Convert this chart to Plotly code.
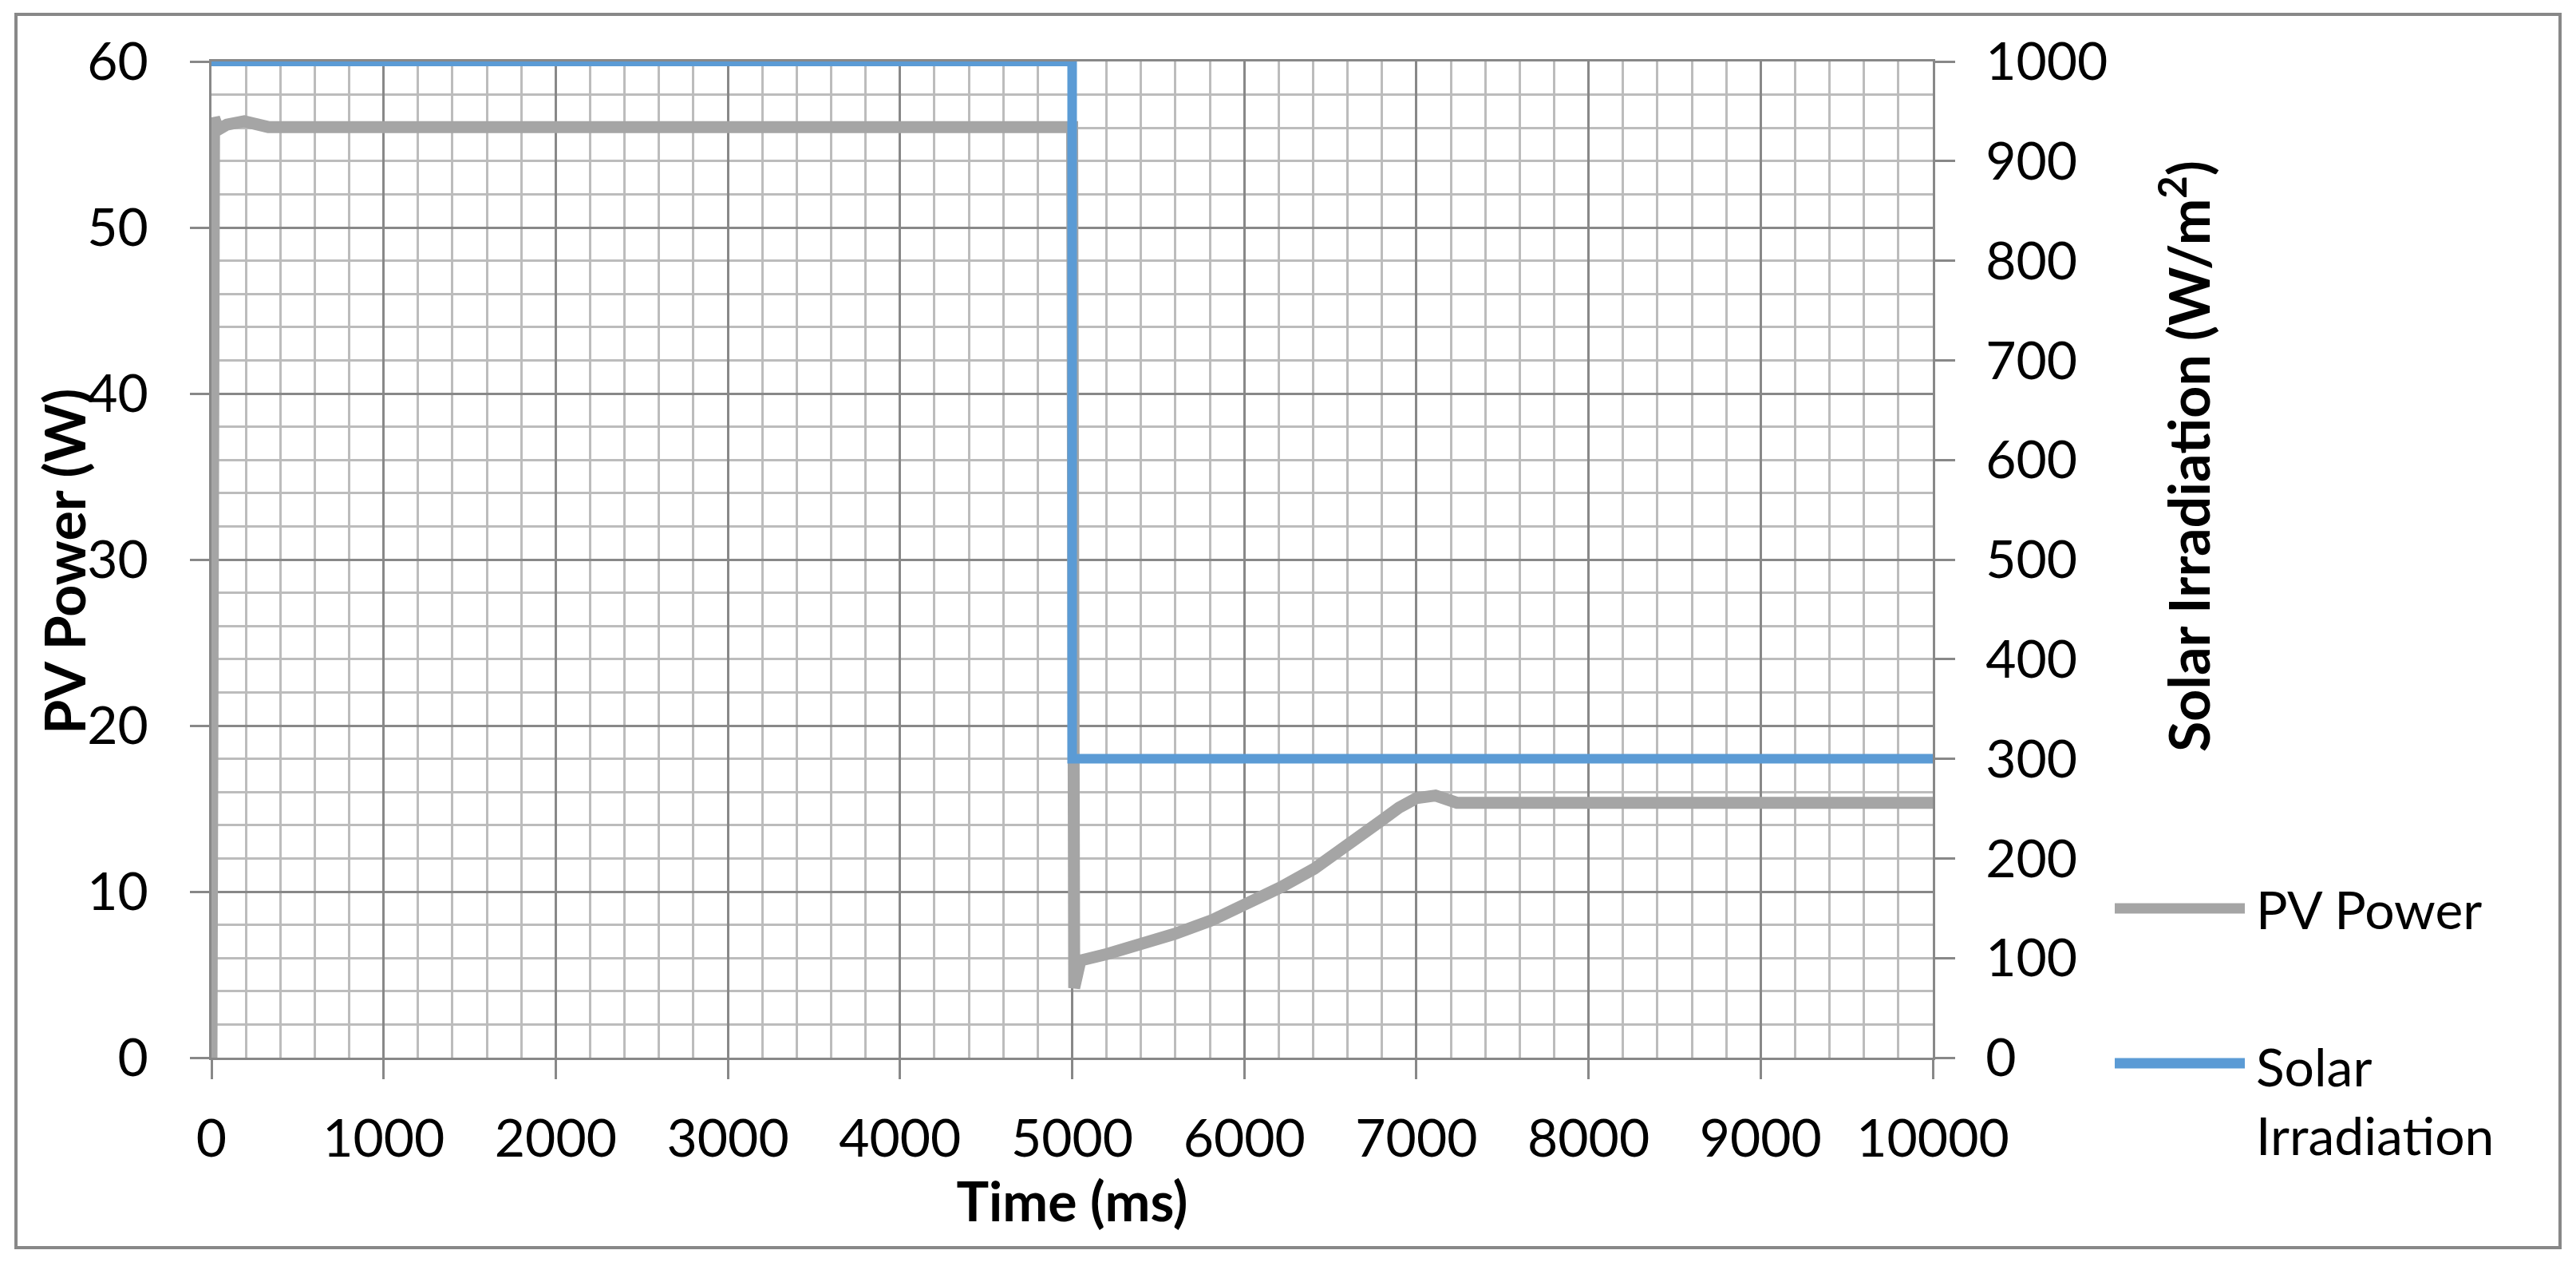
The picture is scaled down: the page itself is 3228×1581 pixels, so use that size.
import plotly.graph_objects as go

# ---- data ----
pv_time = [0, 15, 40, 90, 190, 270, 330, 1000, 2000, 3000, 4000, 5000, 5012,
           5048, 5206, 5400, 5594, 5806, 6005, 6212, 6406, 6600, 6794, 6899,
           7000, 7111, 7182, 7235, 8000, 9000, 10000]
pv_power = [0, 56.6, 55.9, 56.2, 56.4, 56.3, 56.05, 56.05, 56.05, 56.05, 56.05,
            56.05, 4.2, 5.85, 6.25, 6.81, 7.45, 8.25, 9.21, 10.26, 11.38, 12.74,
            14.26, 15.06, 15.63, 15.79, 15.63, 15.35, 15.35, 15.35, 15.35]

irr_time = [0, 5000, 10000]
irr_value = [1000, 300, 300]

series_names = ["PV Power", "Solar Irradiation"]
x_title = "Time (ms)"
y_title = "PV Power (W)"
y2_title = "Solar Irradiation (W/m<sup>2</sup>)"

GRAY = "#A5A5A5"
BLUE = "#5B9BD5"
AXC = "#888888"
MINC = "#BCBCBC"
FONT = "Lato"

fig = go.Figure()
fig.add_trace(go.Scatter(x=pv_time, y=pv_power, mode="lines", name=series_names[0],
                         line=dict(color=GRAY, width=15), yaxis="y"))
fig.add_trace(go.Scatter(x=irr_time, y=irr_value, mode="lines", name=series_names[1],
                         line=dict(color=BLUE, width=12, shape="hv"), yaxis="y2"))

# target plot-area edges in page pixels (page body has an 8px margin)
OFF = 8
L, R, T, B = 265, 2422, 77, 1325
W, H = R - L, B - T
ml, mt = L - OFF, T - OFF
mr = 3228 - ml - W
mb = 1581 - mt - H


def px(X):
    return (X - L) / W


def py(Y):
    return (B - Y) / H


fig.update_layout(
    width=3228, height=1581,
    margin=dict(l=ml, r=mr, t=mt, b=mb),
    paper_bgcolor="white", plot_bgcolor="white",
    showlegend=False,
    font=dict(family=FONT, color="black", size=66),
    xaxis=dict(
        range=[0, 10000], tickmode="linear", tick0=0, dtick=1000, tickformat="d",
        ticks="outside", ticklen=24, tickwidth=3, tickcolor=AXC,
        showline=True, linecolor=AXC, linewidth=3, mirror=True,
        showgrid=True, gridcolor=AXC, gridwidth=3, zeroline=False,
        minor=dict(dtick=200, showgrid=True, gridcolor=MINC, gridwidth=3, ticks=""),
        tickfont=dict(family=FONT, size=66, color="black"),
        ticklabelstandoff=18,
        title=dict(text="<b>" + x_title + "</b>", font=dict(family=FONT, size=68, color="black"),
                   standoff=5),
    ),
    yaxis=dict(
        range=[0, 60], tickmode="linear", tick0=0, dtick=10, tickformat="d",
        ticks="outside", ticklen=24, tickwidth=3, tickcolor=AXC,
        showline=True, linecolor=AXC, linewidth=3,
        showgrid=True, gridcolor=AXC, gridwidth=3, zeroline=False,
        minor=dict(dtick=2, showgrid=True, gridcolor=MINC, gridwidth=3, ticks=""),
        tickfont=dict(family=FONT, size=66, color="black"),
        ticklabelstandoff=39,
    ),
    yaxis2=dict(
        overlaying="y", side="right",
        range=[0, 1000], tickmode="linear", tick0=0, dtick=100, tickformat="d",
        ticks="outside", ticklen=25, tickwidth=3, tickcolor=AXC,
        showline=True, linecolor=AXC, linewidth=3,
        showgrid=False, zeroline=False,
        tickfont=dict(family=FONT, size=66, color="black"),
        ticklabelstandoff=25,
    ),
)

# left axis title (sits close to the tick labels, as in the reference)
fig.add_annotation(text="<b>" + y_title + "</b>", xref="paper", yref="paper",
                   x=px(80), y=py(704), textangle=-90, showarrow=False,
                   xanchor="center", yanchor="middle",
                   font=dict(family=FONT, size=70, color="black"))

# right axis title (offset upward as in the reference)
fig.add_annotation(text="<b>" + y2_title + "</b>", xref="paper", yref="paper",
                   x=px(2738), y=py(572), textangle=-90, showarrow=False,
                   xanchor="center", yanchor="middle",
                   font=dict(family=FONT, size=70, color="black"))

# legend drawn to match the reference's long line samples
fig.add_shape(type="line", xref="paper", yref="paper", x0=px(2650), x1=px(2813),
              y0=py(1138), y1=py(1138), line=dict(color=GRAY, width=13))
fig.add_shape(type="line", xref="paper", yref="paper", x0=px(2650), x1=px(2813),
              y0=py(1332), y1=py(1332), line=dict(color=BLUE, width=13))
fig.add_annotation(text=series_names[0], xref="paper", yref="paper",
                   x=px(2825), y=py(1138), xanchor="left", yanchor="middle",
                   showarrow=False, font=dict(family=FONT, size=66, color="black"))
fig.add_annotation(text="Solar<br>Irradiation", xref="paper", yref="paper",
                   x=px(2825), y=py(1378), xanchor="left", yanchor="middle",
                   align="left", showarrow=False,
                   font=dict(family=FONT, size=66, color="black"))

# outer chart border
fig.add_shape(type="rect", xref="paper", yref="paper",
              x0=px(20), x1=px(3208), y0=py(1563), y1=py(18),
              line=dict(color=AXC, width=4), fillcolor="rgba(0,0,0,0)", layer="above")

fig.write_html("out.html")
